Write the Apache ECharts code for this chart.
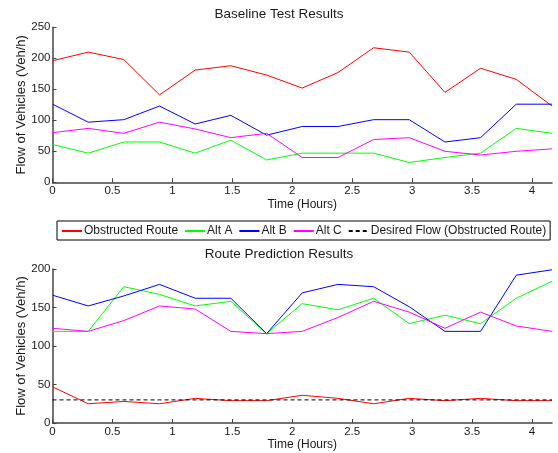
<!DOCTYPE html>
<html>
<head>
<meta charset="utf-8">
<script src="https://cdn.jsdelivr.net/npm/echarts@6/dist/echarts.min.js"></script>
<style>
html,body{margin:0;padding:0;background:#fff;}
#c{width:558px;height:453px;}
</style>
</head>
<body>
<div id="c"></div>
<script>
// Time in hours
var timeHours = [0, 0.298, 0.595, 0.893, 1.190, 1.488, 1.786, 2.083, 2.381, 2.679, 2.976, 3.274, 3.571, 3.869, 4.167];

// Baseline Test Results
var baseObstructed = [196, 210, 198, 141, 181, 188, 173, 152, 177, 217, 210, 145, 184, 166, 123];
var baseAltA = [61, 47, 65, 65, 47, 68, 36, 47, 47, 47, 32, 40, 47, 87, 79];
var baseAltB = [126, 97, 101, 123, 94, 108, 76, 90, 90, 101, 101, 65, 72, 126, 126];
var baseAltC = [80, 87, 79, 97, 86, 72, 79, 40, 40, 69, 72, 50, 44, 50, 54];

// Route Prediction Results
var predObstructed = [47, 25, 28, 25, 32, 29, 29, 36, 32, 25, 32, 29, 32, 29, 29];
var predAltA = [119, 119, 177, 167, 152, 158, 116, 155, 147, 162, 129, 140, 129, 162, 184];
var predAltB = [166, 152, 165, 180, 162, 162, 116, 169, 180, 177, 151, 119, 119, 192, 199];
var predAltC = [123, 119, 133, 152, 148, 119, 116, 119, 137, 158, 144, 123, 144, 126, 119];
var predDesired = [30, 30, 30, 30, 30, 30, 30, 30, 30, 30, 30, 30, 30, 30, 30];

var seriesNames = ['Obstructed Route', 'Alt A', 'Alt B', 'Alt C', 'Desired Flow (Obstructed Route)'];
var titles = ['Baseline Test Results', 'Route Prediction Results'];
var xName = 'Time (Hours)';
var yName = 'Flow of Vehicles (Veh/h)';

function pairs(xs, ys) { return xs.map(function (x, i) { return [x, ys[i]]; }); }

var FONT = 'Liberation Sans, Arial, sans-serif';
var axisCol = '#444';
var txtCol = '#1a1a1a';

function xAxisCfg(gi) {
  return {
    type: 'value', gridIndex: gi, min: 0, max: timeHours[timeHours.length - 1], interval: 0.5,
    name: xName, nameLocation: 'middle', nameGap: 16,
    nameTextStyle: { fontFamily: FONT, fontSize: 12, color: txtCol },
    axisLine: { show: true, lineStyle: { color: axisCol, width: 1.5 } },
    axisTick: { show: true, inside: true, length: 4, lineStyle: { color: axisCol } },
    axisLabel: { fontFamily: FONT, fontSize: 11.5, color: txtCol, margin: 3, showMaxLabel: false,
      formatter: function (v) { return String(v); } },
    splitLine: { show: false }
  };
}
function yAxisCfg(gi, max) {
  return {
    type: 'value', gridIndex: gi, min: 0, max: max, interval: 50,
    name: yName, nameLocation: 'middle', nameGap: 25, nameMoveOverlap: false,
    nameTextStyle: { fontFamily: FONT, fontSize: 13, color: txtCol },
    axisLine: { show: true, lineStyle: { color: axisCol, width: 1.5 } },
    axisTick: { show: true, inside: true, length: 4, lineStyle: { color: axisCol } },
    axisLabel: { fontFamily: FONT, fontSize: 11.5, color: txtCol, margin: 2 },
    splitLine: { show: false }
  };
}
function lineSeries(name, gi, ys, color, dashed) {
  return {
    name: name, type: 'line', xAxisIndex: gi, yAxisIndex: gi,
    data: pairs(timeHours, ys), symbol: 'none', animation: false,
    lineStyle: { color: color, width: 1, type: dashed ? [4, 3] : 'solid' },
    itemStyle: { color: color }
  };
}

var chart = echarts.init(document.getElementById('c'), null, { renderer: 'canvas' });
chart.setOption({
  backgroundColor: '#fff',
  animation: false,
  title: [
    { text: titles[0], left: 'center', top: 2,
      textStyle: { fontFamily: FONT, fontSize: 13.5, fontWeight: 'normal', color: txtCol } },
    { text: titles[1], left: 'center', top: 242,
      textStyle: { fontFamily: FONT, fontSize: 13.5, fontWeight: 'normal', color: txtCol } }
  ],
  legend: {
    data: seriesNames, left: 57, top: 221, width: 491, height: 20,
    padding: [4, 4, 3, 4], itemGap: 6, itemWidth: 20, itemHeight: 10,
    borderColor: '#000', borderWidth: 1, backgroundColor: '#fff',
    itemStyle: { opacity: 0 },
    textStyle: { fontFamily: FONT, fontSize: 12, color: txtCol, padding: [0, 0, 0, -3] }
  },
  grid: [
    { left: 52.5, right: 6, top: 27.3, height: 155 },
    { left: 52.5, right: 6, top: 269, height: 154 }
  ],
  xAxis: [xAxisCfg(0), xAxisCfg(1)],
  yAxis: [yAxisCfg(0, 250), yAxisCfg(1, 200)],
  series: [
    lineSeries(seriesNames[0], 0, baseObstructed, '#ff0000'),
    lineSeries(seriesNames[1], 0, baseAltA, '#00ff00'),
    lineSeries(seriesNames[2], 0, baseAltB, '#0000ff'),
    lineSeries(seriesNames[3], 0, baseAltC, '#ff00ff'),
    lineSeries(seriesNames[0], 1, predObstructed, '#ff0000'),
    lineSeries(seriesNames[1], 1, predAltA, '#00ff00'),
    lineSeries(seriesNames[2], 1, predAltB, '#0000ff'),
    lineSeries(seriesNames[3], 1, predAltC, '#ff00ff'),
    lineSeries(seriesNames[4], 1, predDesired, '#000000', true)
  ]
});
</script>
</body>
</html>
